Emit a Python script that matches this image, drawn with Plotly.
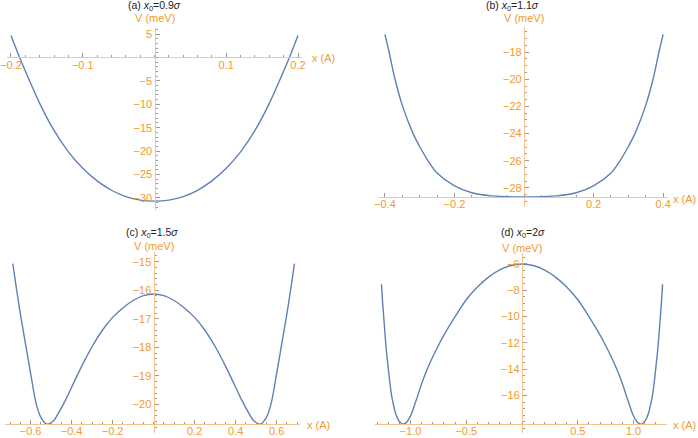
import plotly.graph_objects as go

W, H = 698, 438

# (a) x0 = 0.9 sigma
xa = [-0.2, -0.188, -0.18, -0.16, -0.14, -0.12, -0.10, -0.08, -0.06, -0.04, -0.02, 0.0,
      0.02, 0.04, 0.06, 0.08, 0.10, 0.12, 0.14, 0.16, 0.18, 0.188, 0.2]
va = [4.7, 0.0, -2.9, -9.8, -15.6, -20.18, -23.68, -26.38, -28.38, -29.74, -30.5, -30.7,
      -30.5, -29.74, -28.38, -26.38, -23.68, -20.18, -15.6, -9.8, -2.9, 0.0, 4.7]

# (b) x0 = 1.1 sigma
xb = [-0.4, -0.388, -0.371, -0.349, -0.319, -0.3, -0.276, -0.25, -0.2, -0.15, -0.1, -0.05, 0.0,
      0.05, 0.1, 0.15, 0.2, 0.25, 0.276, 0.3, 0.319, 0.349, 0.371, 0.388, 0.4]
vb = [-16.7, -18.0, -20.0, -22.0, -24.0, -24.95, -26.0, -26.9, -27.85, -28.35, -28.56, -28.64, -28.66,
      -28.64, -28.56, -28.35, -27.85, -26.9, -26.0, -24.95, -24.0, -22.0, -20.0, -18.0, -16.7]

# (c) x0 = 1.5 sigma
xc = [-0.687, -0.668, -0.646, -0.622, -0.598, -0.572, -0.55, -0.52, -0.49, -0.46, -0.43, -0.4,
      -0.35, -0.3, -0.25, -0.2, -0.15, -0.1, -0.05, 0.0,
      0.05, 0.1, 0.15, 0.2, 0.25, 0.3, 0.35, 0.4, 0.43, 0.46,
      0.49, 0.52, 0.55, 0.572, 0.598, 0.622, 0.646, 0.668, 0.687]
vc = [-15.07, -16.0, -17.0, -18.0, -19.0, -20.0, -20.45, -20.69, -20.58, -20.25, -19.85, -19.4,
      -18.65, -17.97, -17.4, -16.95, -16.62, -16.36, -16.19, -16.13,
      -16.19, -16.36, -16.62, -16.95, -17.4, -17.97, -18.65, -19.4, -19.85, -20.25,
      -20.58, -20.69, -20.45, -20.0, -19.0, -18.0, -17.0, -16.0, -15.07]

# (d) x0 = 2 sigma
xd = [-1.26, -1.25, -1.24, -1.232, -1.222, -1.212, -1.198, -1.185, -1.169, -1.155, -1.133, -1.1,
      -1.065, -1.04, -1.015, -0.99, -0.965, -0.935, -0.9, -0.85, -0.8, -0.738, -0.7, -0.6,
      -0.5, -0.4, -0.3, -0.2, -0.1, 0.0,
      0.1, 0.2, 0.3, 0.4, 0.5,
      0.6, 0.7, 0.738, 0.8, 0.85, 0.9, 0.935, 0.965, 0.99, 1.015, 1.04, 1.065,
      1.1, 1.133, 1.155, 1.169, 1.185, 1.198, 1.212, 1.222, 1.232, 1.24, 1.25, 1.26]
vd = [-7.55, -8.9, -10.0, -10.9, -12.0, -12.9, -14.0, -15.0, -16.0, -16.6, -17.35, -17.95,
      -18.17, -18.07, -17.78, -17.35, -16.75, -16.0, -15.1, -14.0, -13.05, -12.0, -11.4, -10.0,
      -8.72, -7.75, -7.0, -6.45, -6.12, -6.0,
      -6.12, -6.45, -7.0, -7.75, -8.72,
      -10.0, -11.4, -12.0, -13.05, -14.0, -15.1, -16.0, -16.75, -17.35, -17.78, -18.07, -18.17,
      -17.95, -17.35, -16.6, -16.0, -15.0, -14.0, -12.9, -12.0, -10.9, -10.0, -8.9, -7.55]

titles = ["(a) <i>x</i><sub>0</sub>=0.9<i>σ</i>", "(b) <i>x</i><sub>0</sub>=1.1<i>σ</i>",
          "(c) <i>x</i><sub>0</sub>=1.5<i>σ</i>", "(d) <i>x</i><sub>0</sub>=2<i>σ</i>"]

xticks = [[-0.2, -0.1, 0.1, 0.2], [-0.4, -0.2, 0.2, 0.4],
          [-0.6, -0.4, -0.2, 0.2, 0.4, 0.6], [-1.0, -0.5, 0.5, 1.0]]
yticks = [[5, -5, -10, -15, -20, -25, -30], [-18, -20, -22, -24, -26, -28],
          [-15, -16, -17, -18, -19, -20], [-6, -8, -10, -12, -14, -16]]

BLUE = "#5E81B5"
ORANGE = "#F29A2E"
LINE = "#F8C38C"
TICK = "#9A9A9A"
FONT = "Liberation Sans"

# lab = (x, y, anchor) of the "x (A)" label, in pixels
panels = [
    dict(x=xa, y=va, xr=[-0.205, 0.205], yr=[-32.6, 6.3], xo=0.0,
         px=[7.4, 301.6], py=[28, 210], xmin=0.02, ymin=1, lab=(310, 58, "left"), vlab=17.5, tl=(154, 5.5)),
    dict(x=xb, y=vb, xr=[-0.417, 0.414], yr=[-29.4, -16.16], xo=-28.66,
         px=[379, 668], py=[27, 207], xmin=0.05, ymin=0.5, lab=(697.5, 199, "right"), vlab=18, tl=(512, 5.5)),
    dict(x=xc, y=vc, xr=[-0.725, 0.714], yr=[-21.0, -14.65], xo=-20.69,
         px=[5, 300], py=[251.7, 433], xmin=0.05, ymin=0.2, lab=(305, 425, "left"), vlab=246.5, tl=(152, 233)),
    dict(x=xd, y=vd, xr=[-1.318, 1.297], yr=[-18.86, -5.19], xo=-18.15,
         px=[375, 666.7], py=[253.3, 433.3], xmin=0.1, ymin=0.5, lab=(671, 425, "left"), vlab=247.5, tl=(523, 233)),
]


def fmt(v, dec):
    s = f"{v:.{dec}f}" if dec else f"{v:g}"
    return s.replace("-", "\u2212")


fig = go.Figure()
annotations = []
for i, p in enumerate(panels):
    n = "" if i == 0 else str(i + 1)
    xdom = [p["px"][0] / W, p["px"][1] / W]
    ydom = [1 - p["py"][1] / H, 1 - p["py"][0] / H]
    # where the axes cross (x = 0 and y = xo)
    ypos = xdom[0] + (0 - p["xr"][0]) / (p["xr"][1] - p["xr"][0]) * (xdom[1] - xdom[0])
    xpos = ydom[0] + (p["xo"] - p["yr"][0]) / (p["yr"][1] - p["yr"][0]) * (ydom[1] - ydom[0])

    fig.add_trace(go.Scatter(x=p["x"], y=p["y"], mode="lines", line=dict(color=BLUE, width=1.4, shape="spline"),
                             xaxis="x" + n, yaxis="y" + n, showlegend=False, hoverinfo="skip"))

    common = dict(showgrid=False, zeroline=False, showline=True, linecolor=LINE, linewidth=1.3,
                  ticks="inside", ticklen=4, tickwidth=1, tickcolor=TICK, automargin=False,
                  tickfont=dict(family=FONT, size=11, color=ORANGE), anchor="free", tickmode="array")
    fig.update_layout({
        "xaxis" + n: dict(common, domain=xdom, range=p["xr"], position=xpos, ticklabelstandoff=-3,
                          tickvals=xticks[i], ticktext=[fmt(v, 1) for v in xticks[i]],
                          minor=dict(dtick=p["xmin"], tick0=0, ticklen=2, tickcolor=TICK, ticks="inside")),
        "yaxis" + n: dict(common, domain=ydom, range=p["yr"], position=ypos,
                          tickvals=yticks[i], ticktext=[fmt(v, 0) for v in yticks[i]],
                          minor=dict(dtick=p["ymin"], tick0=0, ticklen=2, tickcolor=TICK, ticks="inside")),
    })

    annotations.append(dict(x=p["lab"][0] / W, y=1 - p["lab"][1] / H, xref="paper", yref="paper",
                            text="x (A)", showarrow=False, xanchor=p["lab"][2], yanchor="middle",
                            font=dict(family=FONT, size=11, color=ORANGE)))
    annotations.append(dict(x=ypos, y=1 - p["vlab"] / H, xref="paper", yref="paper",
                            text="V (meV)", showarrow=False, xanchor="center", yanchor="middle",
                            font=dict(family=FONT, size=11, color=ORANGE)))
    annotations.append(dict(x=p["tl"][0] / W, y=1 - p["tl"][1] / H, xref="paper", yref="paper",
                            text=titles[i], showarrow=False, xanchor="center", yanchor="middle",
                            font=dict(family=FONT, size=10.5, color="#222222")))

fig.update_layout(width=W, height=H, margin=dict(l=0, r=0, t=0, b=0),
                  paper_bgcolor="white", plot_bgcolor="white", annotations=annotations)

# the page body has a default 8px margin; drop it so the figure sits at the window's corner
fig.write_html("out.html", config={"displayModeBar": False},
               post_script="document.body.style.margin='0';")
